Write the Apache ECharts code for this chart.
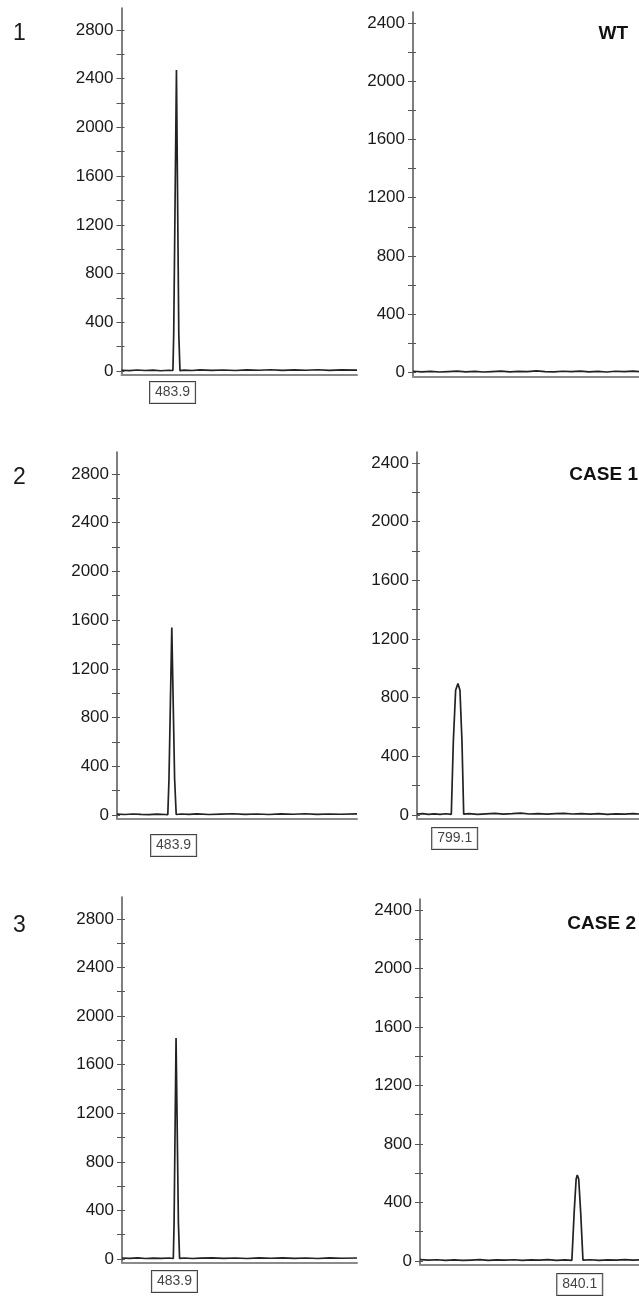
<!DOCTYPE html>
<html>
<head>
<meta charset="utf-8">
<script src="https://cdn.jsdelivr.net/npm/echarts@6/dist/echarts.min.js"></script>
<style>
html,body{margin:0;padding:0;background:#fff;}
#chart{width:639px;height:1300px;}
</style>
</head>
<body>
<div id="chart"></div>
<script>
// ---------- data ----------
const rowLabels = ['1', '2', '3'];
const sampleLabels = ['WT', 'CASE 1', 'CASE 2'];

const leftTickLabels = [0, 400, 800, 1200, 1600, 2000, 2400, 2800];
const leftMinorTicks = [0, 200, 400, 600, 800, 1000, 1200, 1400, 1600, 1800, 2000, 2200, 2400, 2600, 2800];
const rightTickLabels = [0, 400, 800, 1200, 1600, 2000, 2400];
const rightMinorTicks = [0, 200, 400, 600, 800, 1000, 1200, 1400, 1600, 1800, 2000, 2200, 2400];

// fragment size (bp) vs signal (RFU)
const wtLeft = [[470, 6], [472, 3], [474, 8], [476, 4], [478, 7], [480, 2], [482, 6], [483.1, 4],
  [483.3, 300], [484.0, 2470], [484.6, 300], [484.9, 3], [486, 7], [488, 4], [490, 9], [493, 5],
  [496, 8], [499, 4], [502, 9], [505, 6], [508, 10], [511, 5], [514, 9], [517, 6], [520, 10],
  [523, 5], [526, 9], [530, 7]];
const wtRight = [[785, 8], [788, 4], [791, 7], [794, 3], [797, 6], [800, 9], [803, 4], [806, 7],
  [809, 3], [812, 6], [815, 9], [818, 4], [821, 7], [824, 5], [827, 10], [830, 6], [833, 4],
  [836, 8], [839, 5], [842, 9], [845, 4], [848, 7], [851, 3], [854, 8], [857, 5], [860, 9], [862, 6]];
const case1Left = [[470, 7], [472, 4], [474, 8], [476, 5], [478, 3], [480, 7], [482, 4], [482.7, 3],
  [483.0, 300], [483.7, 1540], [484.4, 300], [484.8, 4], [486, 8], [488, 5], [490, 9], [493, 4],
  [496, 7], [499, 10], [502, 5], [505, 8], [508, 4], [511, 9], [514, 6], [517, 10], [520, 5],
  [523, 8], [526, 6], [530, 9]];
const case1Right = [[785, 6], [787, 9], [789, 4], [791, 7], [793, 3], [795, 8], [796.9, 4],
  [797.6, 500], [798.4, 850], [799.2, 896], [799.9, 850], [800.6, 500], [801.2, 5], [803, 8],
  [806, 4], [809, 7], [812, 10], [815, 5], [818, 8], [821, 12], [824, 6], [827, 9], [830, 5],
  [833, 8], [836, 11], [839, 6], [842, 9], [845, 5], [848, 8], [851, 4], [854, 7], [857, 5],
  [860, 8], [862, 6]];
const case2Left = [[470, 8], [472, 5], [474, 9], [476, 4], [478, 7], [480, 5], [482, 8], [483.1, 4],
  [483.3, 300], [483.8, 1820], [484.4, 300], [484.7, 5], [486, 8], [488, 4], [490, 7], [493, 10],
  [496, 5], [499, 8], [502, 4], [505, 9], [508, 6], [511, 10], [514, 5], [517, 8], [520, 4],
  [523, 9], [526, 6], [530, 8]];
const case2Right = [[785, 9], [788, 5], [791, 8], [794, 4], [797, 7], [800, 3], [803, 6], [806, 9],
  [809, 4], [812, 7], [815, 5], [818, 8], [821, 4], [824, 7], [827, 5], [830, 9], [833, 4],
  [836, 7], [838.4, 4], [839.2, 330], [839.9, 560], [840.3, 588], [840.8, 560], [841.5, 330],
  [842.3, 5], [845, 8], [848, 4], [851, 7], [854, 5], [857, 9], [860, 5], [862, 7]];

const peakLabels = [
  {panel: 0, size: 483.9},
  {panel: 2, size: 483.9},
  {panel: 3, size: 799.1},
  {panel: 4, size: 483.9},
  {panel: 5, size: 840.1}
];

const leftSizeRange = [470, 530];
const rightSizeRange = [785, 862];
const leftSignalRange = [-33, 2980];
const rightSignalRange = [-28, 2475];

// ---------- layout / style ----------
const panels = [
  {grid: {left: 121.5, top: 8, width: 235.5, height: 367}, side: 'L', data: wtLeft},
  {grid: {left: 413, top: 12, width: 226, height: 364.5}, side: 'R', data: wtRight},
  {grid: {left: 117, top: 452, width: 240, height: 367}, side: 'L', data: case1Left},
  {grid: {left: 417, top: 452, width: 222, height: 367}, side: 'R', data: case1Right},
  {grid: {left: 122, top: 897, width: 235, height: 366}, side: 'L', data: case2Left},
  {grid: {left: 420, top: 899, width: 219, height: 366}, side: 'R', data: case2Right}
];
const labelStyle = {
  0: {offset: [-3.5, 0], dist: 7},
  2: {offset: [1, 0], dist: 16},
  3: {offset: [-3, 0], dist: 9},
  4: {offset: [-2, 0], dist: 8},
  5: {offset: [3, 0], dist: 9}
};
const FONT = 'Liberation Sans, Arial, sans-serif';
const axisColor = '#555';
const traceColor = '#222';

const grid = [], xAxis = [], yAxis = [], series = [];
panels.forEach((p, i) => {
  const L = p.side === 'L';
  grid.push(Object.assign({containLabel: false}, p.grid));
  xAxis.push({
    type: 'value', gridIndex: i,
    min: (L ? leftSizeRange : rightSizeRange)[0],
    max: (L ? leftSizeRange : rightSizeRange)[1],
    axisLine: {show: true, onZero: false, lineStyle: {color: '#8a8a8a', width: 2}},
    axisTick: {show: false}, axisLabel: {show: false}, splitLine: {show: false}
  });
  const yr = L ? leftSignalRange : rightSignalRange;
  // main axis: line, labels, ticks pointing left
  yAxis.push({
    type: 'value', gridIndex: i, min: yr[0], max: yr[1], position: 'left',
    axisLine: {show: true, onZero: false, lineStyle: {color: axisColor, width: 1.5}},
    axisTick: {show: true, length: 5, inside: false, lineStyle: {color: axisColor, width: 1},
      customValues: L ? leftMinorTicks : rightMinorTicks},
    axisLabel: {show: true, margin: 8, color: '#1a1a1a', fontSize: 17, fontFamily: FONT,
      formatter: v => String(v),
      customValues: L ? leftTickLabels : rightTickLabels},
    splitLine: {show: false}
  });
  // helper axis moved onto the left edge: tick stubs pointing right
  yAxis.push({
    type: 'value', gridIndex: i, min: yr[0], max: yr[1], position: 'right',
    offset: -p.grid.width,
    axisLine: {show: false},
    axisTick: {show: true, length: 3, inside: false, lineStyle: {color: axisColor, width: 1},
      customValues: L ? leftMinorTicks : rightMinorTicks},
    axisLabel: {show: false}, splitLine: {show: false}
  });
  series.push({
    type: 'line', xAxisIndex: i, yAxisIndex: 2 * i, data: p.data,
    showSymbol: false, smooth: false, animation: false,
    lineStyle: {color: traceColor, width: 1.7}
  });
});

peakLabels.forEach(pl => {
  const i = pl.panel;
  const L = panels[i].side === 'L';
  const yr = L ? leftSignalRange : rightSignalRange;
  const st = labelStyle[i];
  series.push({
    type: 'scatter', xAxisIndex: i, yAxisIndex: 2 * i, symbolSize: 0.1,
    itemStyle: {color: 'rgba(0,0,0,0)'}, clip: false, animation: false, silent: true,
    data: [[pl.size, yr[0]]],
    label: {
      show: true, position: 'bottom', distance: st.dist, offset: st.offset,
      formatter: pl.size.toFixed(1),
      fontFamily: FONT, fontSize: 14, color: '#111', lineHeight: 15,
      borderColor: '#111', borderWidth: 1, padding: [3, 5], backgroundColor: '#fff'
    }
  });
});

const rowTitleTops = [22, 466, 914];
const sampleTitleTops = [24, 465, 914];
const sampleTitleRights = [628, 638, 636];
const graphic = [];
rowLabels.forEach((t, r) => {
  graphic.push({type: 'text', left: 13, top: rowTitleTops[r],
    style: {text: t, font: '23px ' + FONT, fill: '#1a1a1a'}});
});
sampleLabels.forEach((t, r) => {
  graphic.push({type: 'text', x: sampleTitleRights[r], y: sampleTitleTops[r],
    style: {text: t, font: 'bold 19px ' + FONT, fill: '#111', textAlign: 'right', textVerticalAlign: 'top'}});
});

const chart = echarts.init(document.getElementById('chart'), null, {renderer: 'canvas'});
chart.setOption({
  backgroundColor: '#fff',
  animation: false,
  grid, xAxis, yAxis, series, graphic
});
</script>
</body>
</html>
